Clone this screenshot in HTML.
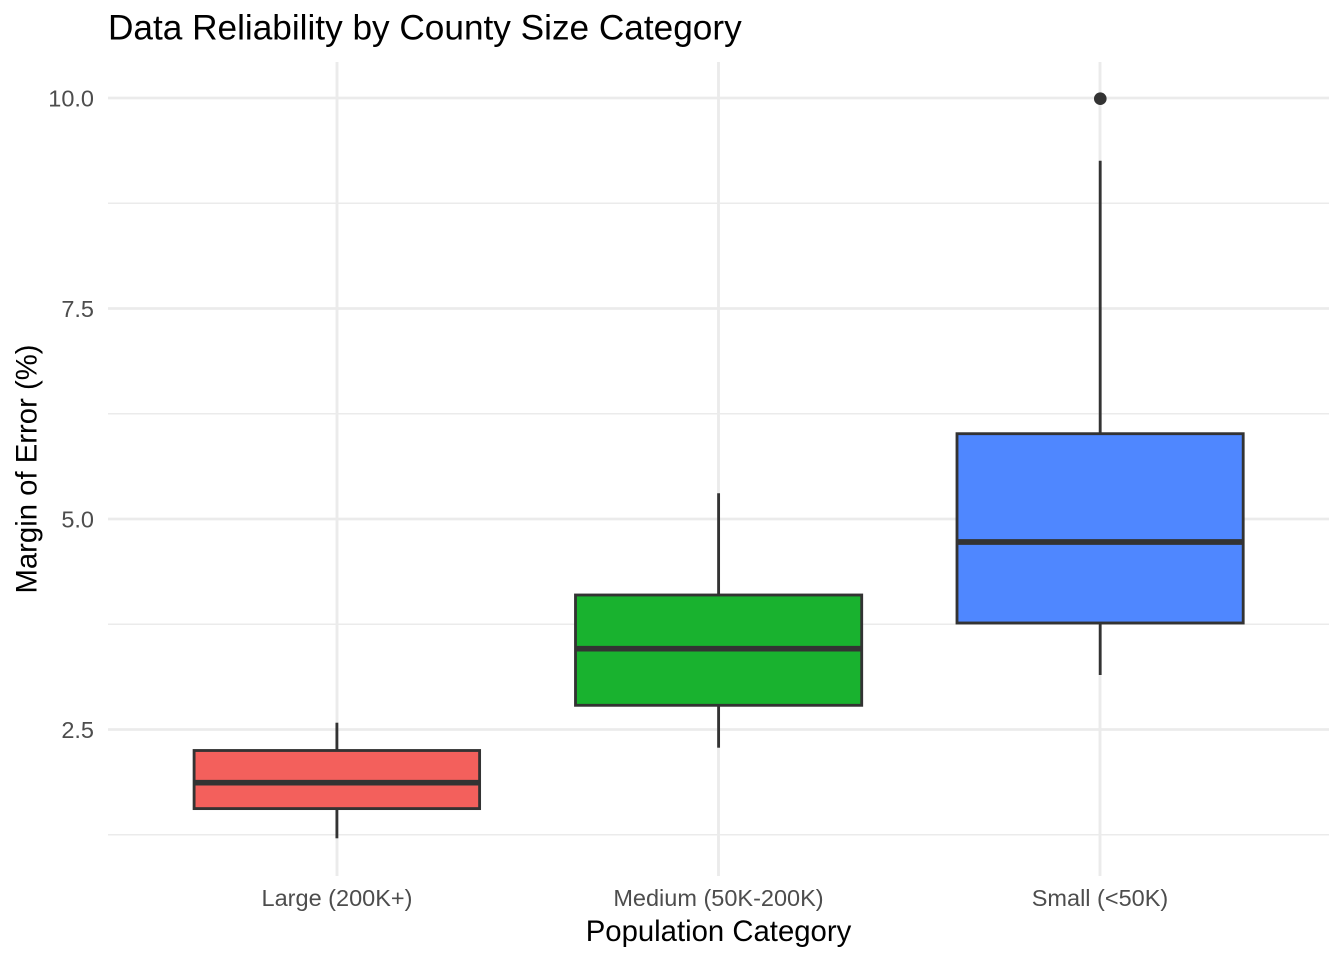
<!DOCTYPE html>
<html>
<head>
<meta charset="utf-8">
<style>
  html, body { margin: 0; padding: 0; background: #ffffff; }
  svg { display: block; }
  text { font-family: "Liberation Sans", Arial, Helvetica, sans-serif; }
</style>
</head>
<body>
<svg width="1344" height="960" viewBox="0 0 1344 960" xmlns="http://www.w3.org/2000/svg">
  <rect x="0" y="0" width="1344" height="960" fill="#ffffff"/>

  <!-- minor horizontal gridlines -->
  <g stroke="#EBEBEB" stroke-width="1.42">
    <line x1="108" y1="203.25" x2="1329" y2="203.25"/>
    <line x1="108" y1="413.75" x2="1329" y2="413.75"/>
    <line x1="108" y1="624.25" x2="1329" y2="624.25"/>
    <line x1="108" y1="834.75" x2="1329" y2="834.75"/>
  </g>
  <!-- major gridlines -->
  <g stroke="#EBEBEB" stroke-width="2.85">
    <line x1="108" y1="98" x2="1329" y2="98"/>
    <line x1="108" y1="308.5" x2="1329" y2="308.5"/>
    <line x1="108" y1="519" x2="1329" y2="519"/>
    <line x1="108" y1="729.5" x2="1329" y2="729.5"/>
    <line x1="337" y1="62" x2="337" y2="876"/>
    <line x1="718.5" y1="62" x2="718.5" y2="876"/>
    <line x1="1100" y1="62" x2="1100" y2="876"/>
  </g>

  <!-- Large box -->
  <g stroke="#333333" stroke-width="2.85">
    <line x1="336.9" y1="722.7" x2="336.9" y2="750.5"/>
    <line x1="336.9" y1="808.6" x2="336.9" y2="838.3"/>
    <rect x="194.1" y="750.5" width="285.5" height="58.1" fill="#F3605C"/>
    <line x1="194.1" y1="782.7" x2="479.6" y2="782.7" stroke-width="5.7"/>
  </g>

  <!-- Medium box -->
  <g stroke="#333333" stroke-width="2.85">
    <line x1="718.6" y1="493.3" x2="718.6" y2="595"/>
    <line x1="718.6" y1="705.3" x2="718.6" y2="747.7"/>
    <rect x="575.5" y="595" width="286.2" height="110.3" fill="#19B22F"/>
    <line x1="575.5" y1="648.7" x2="861.7" y2="648.7" stroke-width="5.7"/>
  </g>

  <!-- Small box -->
  <g stroke="#333333" stroke-width="2.85">
    <line x1="1100.2" y1="160.7" x2="1100.2" y2="433.7"/>
    <line x1="1100.2" y1="623" x2="1100.2" y2="675"/>
    <rect x="957" y="433.7" width="286.2" height="189.3" fill="#4F87FF"/>
    <line x1="957" y1="542" x2="1243.2" y2="542" stroke-width="5.7"/>
  </g>
  <circle cx="1100.3" cy="98.7" r="6.3" fill="#333333"/>

  <!-- y tick labels -->
  <g font-size="23.5" fill="#4D4D4D" text-anchor="end">
    <text x="94" y="106.5">10.0</text>
    <text x="94" y="317">7.5</text>
    <text x="94" y="527.5">5.0</text>
    <text x="94" y="738">2.5</text>
  </g>

  <!-- x tick labels -->
  <g font-size="23.5" fill="#4D4D4D" text-anchor="middle">
    <text x="337" y="906">Large (200K+)</text>
    <text x="718.5" y="906">Medium (50K-200K)</text>
    <text x="1100" y="906">Small (&lt;50K)</text>
  </g>

  <!-- axis titles -->
  <text x="718.5" y="941" font-size="29.3" fill="#000000" text-anchor="middle">Population Category</text>
  <text transform="translate(36.5,469) rotate(-90)" font-size="29.3" fill="#000000" text-anchor="middle">Margin of Error (%)</text>

  <!-- plot title -->
  <text x="108" y="39.5" font-size="35.2" fill="#000000">Data Reliability by County Size Category</text>
</svg>
</body>
</html>
